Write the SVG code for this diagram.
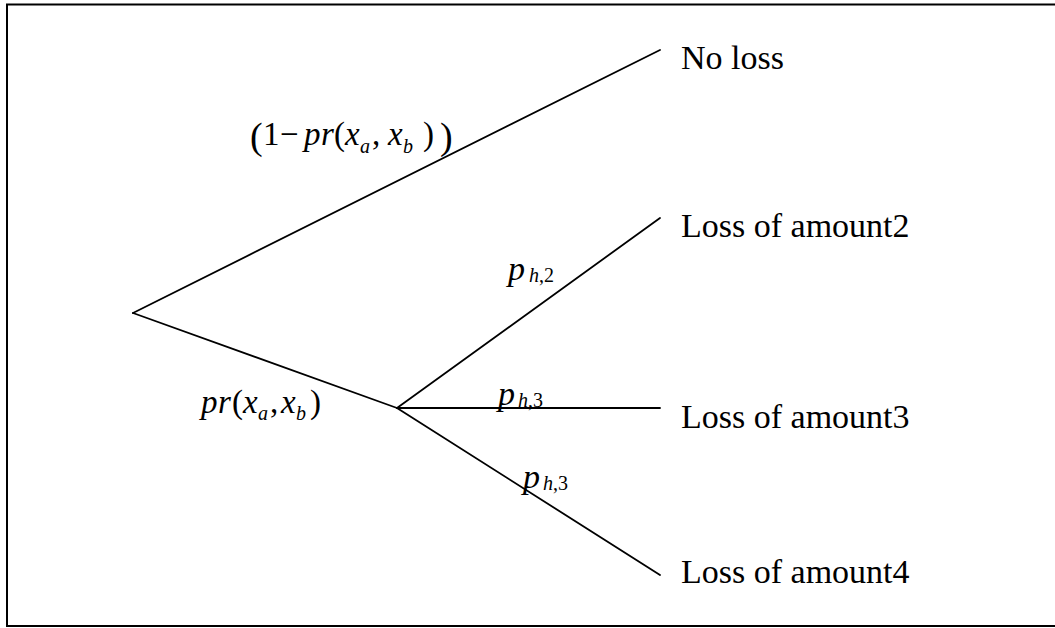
<svg xmlns="http://www.w3.org/2000/svg" width="1055" height="628" viewBox="0 0 1055 628">
<style>
.frame{fill:none;stroke:#000;stroke-width:2}
.edge{stroke:#000;stroke-width:1.8;fill:none;stroke-linecap:round}
.leaf{font-family:"Liberation Serif","Times New Roman",serif;font-size:34px;fill:#000}
.m{font-family:"Liberation Serif","Times New Roman",serif;font-size:33px;fill:#000}
.i{font-style:italic}
.s{font-size:20px;font-style:italic}
.big{font-size:38px}
.pl{font-family:"Liberation Serif","Times New Roman",serif;font-size:34px;fill:#000}
.ps{font-size:20px;font-style:italic}
.pn{font-size:20px}
</style>
<rect x="0" y="0" width="1055" height="628" fill="#fff"/>
<path class="frame" d="M1056,4.5 H7 V626 H1056"/>
<g id="connectors">
<line class="edge" x1="133" y1="313" x2="660" y2="50"/>
<line class="edge" x1="133" y1="313" x2="397" y2="408"/>
<line class="edge" x1="397" y1="408" x2="660" y2="218"/>
<line class="edge" x1="397" y1="408" x2="660" y2="408"/>
<line class="edge" x1="397" y1="408" x2="660" y2="575"/>
</g>
<g id="root"><circle cx="133" cy="313" r="0.1" fill="#000"/></g>
<g id="chance"><circle cx="397" cy="408" r="0.1" fill="#000"/></g>
<g id="leaf-noloss"><text class="leaf" x="681" y="69">No loss</text></g>
<g id="leaf-amount2"><text class="leaf" x="681" y="237">Loss of amount2</text></g>
<g id="leaf-amount3"><text class="leaf" x="681" y="428">Loss of amount3</text></g>
<g id="leaf-amount4"><text class="leaf" x="681" y="583">Loss of amount4</text></g>
<g id="labels">
<text class="m"><tspan class="big" x="250" y="149">(</tspan><tspan x="263" y="145">1</tspan><tspan x="280" y="145">−</tspan><tspan class="i" x="304" y="145">p</tspan><tspan class="i" x="321" y="145">r</tspan><tspan x="334" y="145">(</tspan><tspan class="i" x="345" y="145">x</tspan><tspan class="s" x="360" y="153">a</tspan><tspan x="372" y="145">,</tspan><tspan class="i" x="388" y="145">x</tspan><tspan class="s" x="403" y="153">b</tspan><tspan x="423" y="145">)</tspan><tspan class="big" x="440" y="149">)</tspan></text>
<text class="m"><tspan class="i" x="201" y="413">p</tspan><tspan class="i" x="218" y="413">r</tspan><tspan x="232" y="413">(</tspan><tspan class="i" x="243" y="413">x</tspan><tspan class="s" x="258" y="420">a</tspan><tspan x="270" y="413">,</tspan><tspan class="i" x="281" y="413">x</tspan><tspan class="s" x="296" y="420">b</tspan><tspan x="310" y="413">)</tspan></text>
<text class="pl"><tspan class="i" x="508" y="280">p</tspan><tspan class="ps" x="529" y="282">h</tspan><tspan class="pn" x="539" y="282">,2</tspan></text>
<text class="pl"><tspan class="i" x="498" y="405">p</tspan><tspan class="ps" x="518" y="407">h</tspan><tspan class="pn" x="528" y="407">,3</tspan></text>
<text class="pl"><tspan class="i" x="523" y="488">p</tspan><tspan class="ps" x="543" y="490">h</tspan><tspan class="pn" x="553" y="490">,3</tspan></text>
</g>
</svg>
